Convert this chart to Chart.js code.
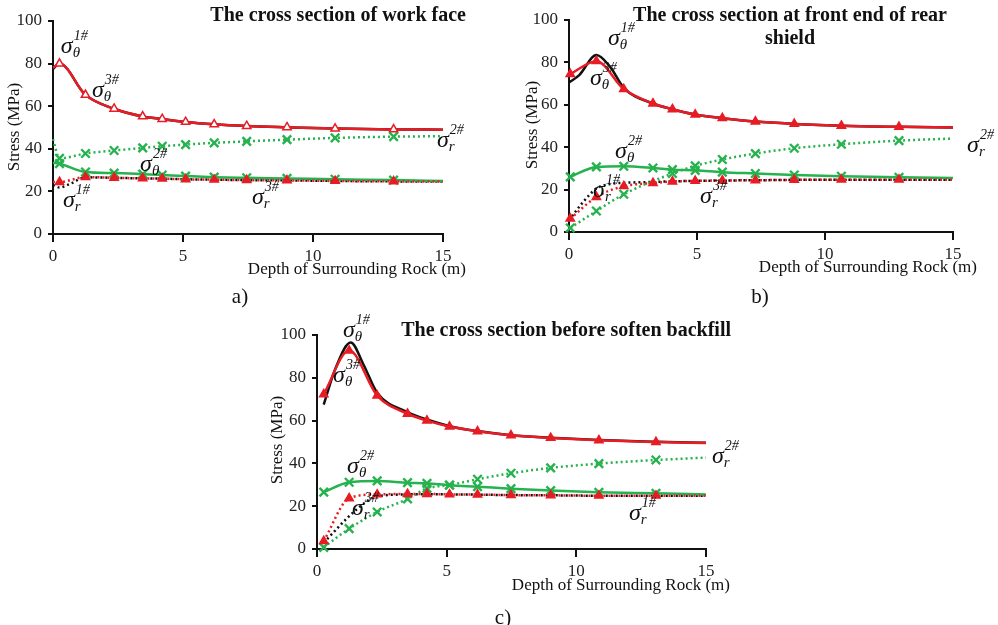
<!DOCTYPE html>
<html><head><meta charset="utf-8">
<script src="https://cdn.jsdelivr.net/npm/chart.js@4/dist/chart.umd.min.js"></script>
<style>
html,body{margin:0;padding:0;background:#fff;}
body{width:998px;height:625px;position:relative;overflow:hidden;}
canvas{position:absolute;}
</style></head><body>
<canvas id="ca" width="495" height="310" style="left:0;top:0"></canvas>
<canvas id="cb" width="498" height="310" style="left:500px;top:0"></canvas>
<canvas id="cc" width="500" height="320" style="left:250px;top:305px"></canvas>
<script>
// ---------- DATA ----------
const xTicks = [0, 5, 10, 15];
const yTicks = [0, 20, 40, 60, 80, 100];

// a) The cross section of work face
const aX        = [0, 0.25, 1.25, 2.35, 3.45, 4.2, 5.1, 6.2, 7.45, 9.0, 10.85, 13.1, 15];
const aThetaRed = [78, 80, 65.3, 58.8, 55.2, 54, 52.6, 51.5, 50.7, 50.1, 49.5, 49.1, 49.0];
const aRRed     = [24.5, 24.4, 26.7, 26.4, 26.1, 26, 25.7, 25.5, 25.3, 25.2, 24.9, 24.7, 24.6];
const aThetaGrn = [33.4, 33, 29.1, 28.6, 28.1, 27.7, 27.2, 26.7, 26.4, 26.1, 25.7, 25.3, 24.9];
const aRGrn     = [44.5, 35.5, 37.8, 39.2, 40.4, 41.2, 42, 42.8, 43.5, 44.3, 45.1, 45.7, 45.9];
const aThetaBlkX = [0, 0.25, 1.25, 2.35, 3.45, 4.2, 5.1, 6.2, 7.45, 9.0, 10.85, 13.1, 15];
const aThetaBlk  = [77.5, 80, 65.3, 58.8, 55.2, 54, 52.6, 51.5, 50.7, 50.1, 49.5, 49.1, 49.0];
const aRBlkX = [0, 0.25, 0.7, 1.25, 2.35, 3.45, 4.2, 5.1, 6.2, 7.45, 9.0, 10.85, 13.1, 15];
const aRBlk  = [23, 21.8, 23.8, 26.6, 26.4, 26.1, 26, 25.7, 25.5, 25.3, 25.2, 24.9, 24.7, 24.6];

// b) The cross section at front end of rear shield
const bX        = [0.05, 1.07, 2.14, 3.28, 4.04, 4.93, 5.99, 7.28, 8.8, 10.64, 12.89, 15];
const bThetaRed = [74.5, 80.6, 67.4, 60.6, 57.9, 55.4, 53.7, 52.1, 51, 50.1, 49.6, 49.3];
const bRRed     = [6.3, 16.5, 21.6, 23.1, 23.8, 24.1, 24.3, 24.4, 24.6, 24.7, 24.7, 24.7];
const bThetaGrn = [26, 30.7, 31, 30.2, 29.4, 29.1, 28.2, 27.6, 26.9, 26.3, 25.8, 25.5];
const bRGrnX    = [0.05, 1.07, 2.14, 4.04, 4.93, 5.99, 7.28, 8.8, 10.64, 12.89, 15];
const bRGrn     = [1.9, 9.9, 17.8, 27.6, 31.2, 34.2, 37, 39.5, 41.4, 43.1, 44.1];
const bThetaBlkX = [0, 0.4, 1.07, 1.6, 2.14, 3.28, 4.04, 4.93, 5.99, 7.28, 8.8, 10.64, 12.89, 15];
const bThetaBlk  = [70.5, 74, 83.5, 78, 68, 60.6, 57.9, 55.4, 53.7, 52.1, 51, 50.1, 49.6, 49.3];
const bRBlkX = [0, 0.5, 1.07, 1.6, 2.14, 3.28, 4.04, 4.93, 5.99, 7.28, 8.8, 10.64, 12.89, 15];
const bRBlk  = [5.5, 13.4, 20.5, 22.6, 23.2, 23.6, 23.9, 24.1, 24.3, 24.4, 24.6, 24.7, 24.7, 24.7];

// c) The cross section before soften backfill
const cX        = [0.26, 1.24, 2.32, 3.49, 4.24, 5.11, 6.19, 7.48, 9.01, 10.87, 13.07, 15];
const cThetaRed = [72.3, 92.7, 71.7, 63.2, 60, 57.2, 55, 53.1, 51.9, 50.8, 50, 49.5];
const cRRed     = [3.7, 23.7, 25.5, 25.7, 25.7, 25.5, 25.4, 25.2, 25.1, 24.9, 24.9, 24.9];
const cThetaGrn = [26.6, 31.2, 31.8, 31, 30.7, 29.8, 29.1, 28.2, 27.3, 26.5, 26, 25.5];
const cRGrn     = [0.8, 9.5, 17.3, 23.4, 28.3, 29.9, 32.6, 35.4, 37.9, 39.9, 41.6, 42.7];
const cThetaBlkX = [0.26, 0.7, 1.3, 1.8, 2.32, 3.49, 4.24, 5.11, 6.19, 7.48, 9.01, 10.87, 13.07, 15];
const cThetaBlk  = [67.5, 84, 96.5, 86, 73, 64, 60.5, 57.4, 55.1, 53.2, 52, 50.9, 50.1, 49.6];
const cRBlkX = [0.26, 1.5, 2.32, 3.49, 4.24, 5.11, 6.19, 7.48, 9.01, 10.87, 13.07, 15];
const cRBlk  = [3, 18.2, 24.6, 25.5, 25.6, 25.5, 25.4, 25.2, 25.1, 24.9, 24.9, 24.9];

// ---------- STYLE ----------
const RED = 'rgb(232,28,36)', GRN = 'rgb(38,178,78)', BLK = '#111';
const FONT = '"Liberation Serif", "Times New Roman", serif';

function pts(xs, ys) { return xs.map((x, i) => ({x, y: ys[i]})); }
const markR = r => ctx => (ctx.raw && ctx.raw.x > 0.01 && ctx.raw.x < 14.99) ? r : 0;

function series(xs, ys, color, dotted, marker, hollow) {
  return {
    data: pts(xs, ys),
    borderColor: color,
    backgroundColor: hollow ? '#fff' : color,
    borderWidth: 2.5,
    borderDash: dotted ? [2, 3] : [],
    cubicInterpolationMode: 'monotone',
    pointStyle: marker || 'circle',
    pointRadius: marker ? markR(marker === 'crossRot' ? 6 : 4.8) : 0,
    pointBorderWidth: marker === 'crossRot' ? 2.4 : 1.5,
    pointBorderColor: color,
    pointBackgroundColor: hollow ? '#fff' : color,
    pointHoverRadius: 0,
    fill: false,
    clip: false
  };
}

const deco = {
  id: 'deco',
  afterDraw(chart, args, o) {
    const c = chart.ctx;
    c.save();
    c.fillStyle = '#111';
    c.textBaseline = 'alphabetic';
    c.font = 'bold 20px ' + FONT;
    c.textAlign = o.titleAlign;
    o.title.forEach((t, i) => c.fillText(t, o.titleX, o.titleY + i * 23));
    c.font = '17px ' + FONT;
    c.textAlign = 'right';
    c.fillText(o.xTitle, o.xTitleX, o.xTitleY);
    c.save();
    c.translate(o.yTitleX, o.yTitleY);
    c.rotate(-Math.PI / 2);
    c.textAlign = 'center'; c.textBaseline = 'middle';
    c.fillText(o.yTitle, 0, 0);
    c.restore();
    c.font = '21px ' + FONT;
    c.textAlign = 'center';
    c.fillText(o.letter, o.letterX, o.letterY);
    const xs = chart.scales.x, ys = chart.scales.y;
    o.sigmas.forEach(s => {
      const px = xs.getPixelForValue(s.x), py = ys.getPixelForValue(s.y);
      c.textAlign = 'left';
      c.font = 'italic 24px ' + FONT;
      c.fillText('σ', px, py);
      const w = c.measureText('σ').width;
      c.font = 'italic 15px ' + FONT;
      c.fillText(s.sub, px + w, py + 4);
      c.font = 'italic 14px ' + FONT;
      c.fillText(s.sup, px + w + 1, py - 13);
    });
    c.restore();
  }
};

function makeChart(id, datasets, geo, decoOpts) {
  new Chart(document.getElementById(id), {
    type: 'line',
    data: { datasets },
    plugins: [deco],
    options: {
      responsive: false,
      animation: false,
      devicePixelRatio: 1,
      layout: { padding: { left: 0, top: geo.top, right: geo.right, bottom: 0 } },
      plugins: { legend: { display: false }, tooltip: { enabled: false }, deco: decoOpts },
      scales: {
        x: {
          type: 'linear', min: 0, max: 15,
          afterBuildTicks: s => { s.ticks = xTicks.map(v => ({value: v})); },
          afterFit: s => { s.height = geo.xh; },
          grid: { display: true, drawOnChartArea: false, drawTicks: true, tickLength: 8, color: BLK, lineWidth: 2 },
          border: { display: true, color: BLK, width: 2 },
          ticks: { color: '#222', font: { family: FONT, size: 17 }, padding: 4, maxRotation: 0 }
        },
        y: {
          type: 'linear', min: 0, max: 100,
          afterBuildTicks: s => { s.ticks = yTicks.map(v => ({value: v})); },
          afterFit: s => { s.width = geo.yw; },
          grid: { display: true, drawOnChartArea: false, drawTicks: true, tickLength: 5, color: BLK, lineWidth: 2 },
          border: { display: true, color: BLK, width: 2 },
          ticks: { color: '#222', font: { family: FONT, size: 17 }, padding: 6 }
        }
      }
    }
  });
}

// a)
makeChart('ca', [
  series(aX, aThetaRed, RED, false, 'triangle', true),
  series(aX, aRRed, RED, true, 'triangle', false),
  series(aX, aThetaGrn, GRN, false, 'crossRot'),
  series(aX, aRGrn, GRN, true, 'crossRot'),
  series(aThetaBlkX, aThetaBlk, BLK, false, null),
  series(aRBlkX, aRBlk, BLK, true, null)
], { top: 21, right: 52, xh: 76, yw: 53 }, {
  title: ['The cross section of work face'], titleAlign: 'right', titleX: 466, titleY: 21,
  xTitle: 'Depth of Surrounding Rock (m)', xTitleX: 466, xTitleY: 274,
  yTitle: 'Stress (MPa)', yTitleX: 15, yTitleY: 127,
  letter: 'a)', letterX: 240, letterY: 303,
  sigmas: [
    {sub: 'θ', sup: '1#', x: 0.3, y: 85},
    {sub: 'θ', sup: '3#', x: 1.5, y: 64.5},
    {sub: 'θ', sup: '2#', x: 3.35, y: 29.4},
    {sub: 'r', sup: '1#', x: 0.38, y: 12.6},
    {sub: 'r', sup: '3#', x: 7.65, y: 14},
    {sub: 'r', sup: '2#', x: 14.77, y: 40.7}
  ]
});

// b)
makeChart('cb', [
  series(bX, bThetaRed, RED, false, 'triangle', false),
  series(bX, bRRed, RED, true, 'triangle', false),
  series(bX, bThetaGrn, GRN, false, 'crossRot'),
  series(bRGrnX, bRGrn, GRN, true, 'crossRot'),
  series(bThetaBlkX, bThetaBlk, BLK, false, null),
  series(bRBlkX, bRBlk, BLK, true, null)
], { top: 20, right: 45, xh: 78, yw: 69 }, {
  title: ['The cross section at front end of rear', 'shield'], titleAlign: 'center', titleX: 290, titleY: 21,
  xTitle: 'Depth of Surrounding Rock (m)', xTitleX: 477, xTitleY: 272,
  yTitle: 'Stress (MPa)', yTitleX: 33, yTitleY: 125,
  letter: 'b)', letterX: 260, letterY: 303,
  sigmas: [
    {sub: 'θ', sup: '1#', x: 1.52, y: 88.2},
    {sub: 'θ', sup: '3#', x: 0.82, y: 69.3},
    {sub: 'θ', sup: '2#', x: 1.8, y: 34.9},
    {sub: 'r', sup: '1#', x: 0.94, y: 16.5},
    {sub: 'r', sup: '3#', x: 5.12, y: 13.7},
    {sub: 'r', sup: '2#', x: 15.55, y: 37.7}
  ]
});

// c)
makeChart('cc', [
  series(cX, cThetaRed, RED, false, 'triangle', false),
  series(cX, cRRed, RED, true, 'triangle', false),
  series(cX, cThetaGrn, GRN, false, 'crossRot'),
  series(cX, cRGrn, GRN, true, 'crossRot'),
  series(cThetaBlkX, cThetaBlk, BLK, false, null),
  series(cRBlkX, cRBlk, BLK, true, null)
], { top: 30, right: 44, xh: 76, yw: 67 }, {
  title: ['The cross section before soften backfill'], titleAlign: 'right', titleX: 481, titleY: 31,
  xTitle: 'Depth of Surrounding Rock (m)', xTitleX: 480, xTitleY: 285,
  yTitle: 'Stress (MPa)', yTitleX: 28, yTitleY: 135,
  letter: 'c)', letterX: 253, letterY: 319,
  sigmas: [
    {sub: 'θ', sup: '1#', x: 1.0, y: 99},
    {sub: 'θ', sup: '3#', x: 0.62, y: 78},
    {sub: 'θ', sup: '2#', x: 1.16, y: 35.5},
    {sub: 'r', sup: '3#', x: 1.35, y: 15.9},
    {sub: 'r', sup: '1#', x: 12.03, y: 13.6},
    {sub: 'r', sup: '2#', x: 15.23, y: 40.2}
  ]
});
</script>
</body></html>
